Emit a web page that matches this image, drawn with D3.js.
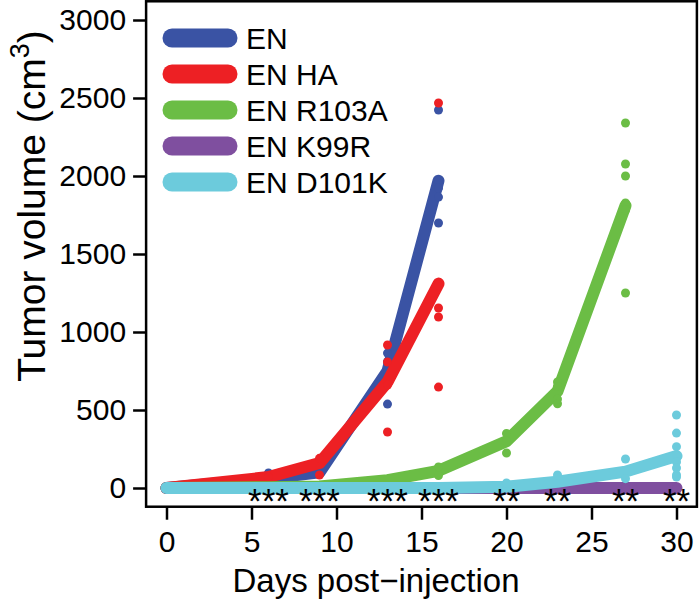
<!DOCTYPE html>
<html><head><meta charset="utf-8">
<script src="https://cdn.jsdelivr.net/npm/d3@7"></script>
<style>body{margin:0;background:#fff}svg{display:block;font-family:"Liberation Sans",Arial,sans-serif}</style>
</head><body><svg id="c" width="700" height="606"></svg>
<script>
const seriesNames = ["EN","EN HA","EN R103A","EN K99R","EN D101K"];
const colors = ["#3a53a4","#ed2024","#6bbd45","#7f4f9f","#6ccbdc"];
const xTicks = [0,5,10,15,20,25,30];
const yTicks = [0,500,1000,1500,2000,2500,3000];
// mean lines
const enDays = [0,6,9,13,16];
const enMean = [0,60,100,750,1970];
const haDays = [0,6,9,13,16];
const haMean = [0,70,160,680,1310];
const r103Days = [0,6,9,13,16,20,23,27];
const r103Mean = [0,5,10,50,110,300,620,1810];
const k99Days = [0,6,9,13,16,20,23,27,30];
const k99Mean = [0,0,0,0,0,0,0,0,0];
const d101Days = [0,6,9,13,16,20,23,27,30];
const d101Mean = [0,0,0,0,0,8,40,105,205];
// individual points [day, value]
const enPts = [[6,96],[9,96],[13,865],[13,810],[13,538],[13,750],[16,2423],[16,1968],[16,1923],[16,1865],[16,1699]];
const haPts = [[6,70],[9,190],[9,83],[13,917],[13,808],[13,660],[13,359],[16,2468],[16,1154],[16,1096],[16,647],[16,1300]];
const r103Pts = [[16,135],[16,80],[20,350],[20,224],[20,300],[23,680],[23,650],[23,570],[23,540],[27,2340],[27,2077],[27,2000],[27,1827],[27,1782],[27,1250]];
const k99Pts = [[20,0],[23,0],[27,0],[30,0]];
const d101Pts = [[20,32],[23,83],[27,186],[27,60],[30,468],[30,352],[30,265],[30,212],[30,167],[30,128],[30,83],[30,70]];
const starDays = [6,9,13,16,20,23,27,30];
const starLabels = ["***","***","***","***","**","**","**","**"];

const series = [
  {d:enDays,m:enMean,p:enPts},
  {d:haDays,m:haMean,p:haPts},
  {d:r103Days,m:r103Mean,p:r103Pts},
  {d:k99Days,m:k99Mean,p:k99Pts},
  {d:d101Days,m:d101Mean,p:d101Pts}
];

const svg = d3.select("#c");
const x = d3.scaleLinear().domain([0,30]).range([166.5,676.5]);
const y = d3.scaleLinear().domain([0,3000]).range([488,20]);

// box
svg.append("rect").attr("x",x(-1.2)).attr("y",y(3120)).attr("width",x(31.2)-x(-1.2)).attr("height",y(-120)-y(3120))
  .attr("fill","none").attr("stroke","#000").attr("stroke-width",2.5);

// axes
const xa = svg.append("g").attr("transform",`translate(0,${y(-120)})`)
  .call(d3.axisBottom(x).tickValues(xTicks).tickFormat(d3.format("d")).tickSize(13).tickPadding(11));
const ya = svg.append("g").attr("transform",`translate(${x(-1.2)},0)`)
  .call(d3.axisLeft(y).tickValues(yTicks).tickFormat(d3.format("d")).tickSize(13).tickPadding(7));
[xa,ya].forEach(a=>{
  a.select(".domain").remove();
  a.selectAll(".tick line").attr("stroke","#000").attr("stroke-width",2.5);
  a.selectAll(".tick text").attr("fill","#000").style("font-size","30px").style("font-family","Liberation Sans, Arial, sans-serif");
});

const line = d3.line().x(d=>x(d[0])).y(d=>y(d[1]));
const plot = svg.append("g");
series.forEach((s,i)=>{
  const pts = s.d.map((dd,j)=>[dd,s.m[j]]);
  plot.append("path").attr("d",line(pts)).attr("fill","none").attr("stroke",colors[i])
    .attr("stroke-width",12).attr("stroke-linecap","round").attr("stroke-linejoin","round");
  plot.selectAll(null).data(s.p).enter().append("circle")
    .attr("cx",d=>x(d[0])).attr("cy",d=>y(d[1])).attr("r",4.5).attr("fill",colors[i]);
});

// asterisks
svg.selectAll(".st").data(starDays).enter().append("text")
  .attr("x",d=>x(d)).attr("y",513).attr("text-anchor","middle")
  .style("font-size","35px").attr("fill","#000").text((d,i)=>starLabels[i]);

// legend
const lg = svg.append("g");
seriesNames.forEach((n,i)=>{
  const yy = 38 + i*36;
  lg.append("line").attr("x1",172).attr("x2",228).attr("y1",yy).attr("y2",yy)
    .attr("stroke",colors[i]).attr("stroke-width",19).attr("stroke-linecap","round");
  lg.append("text").attr("x",246).attr("y",yy+11).style("font-size","30px").attr("fill","#000").text(n);
});

// titles
svg.append("text").attr("x",376).attr("y",592).attr("text-anchor","middle").style("font-size","33px").text("Days post\u2212injection");
const yt = svg.append("text").attr("transform",`translate(45,206) rotate(-90)`).attr("text-anchor","middle").style("font-size","39px");
yt.append("tspan").text("Tumor volume (cm");
yt.append("tspan").attr("dy",-16).style("font-size","27px").text("3");
yt.append("tspan").attr("dy",16).text(")");
</script></body></html>
